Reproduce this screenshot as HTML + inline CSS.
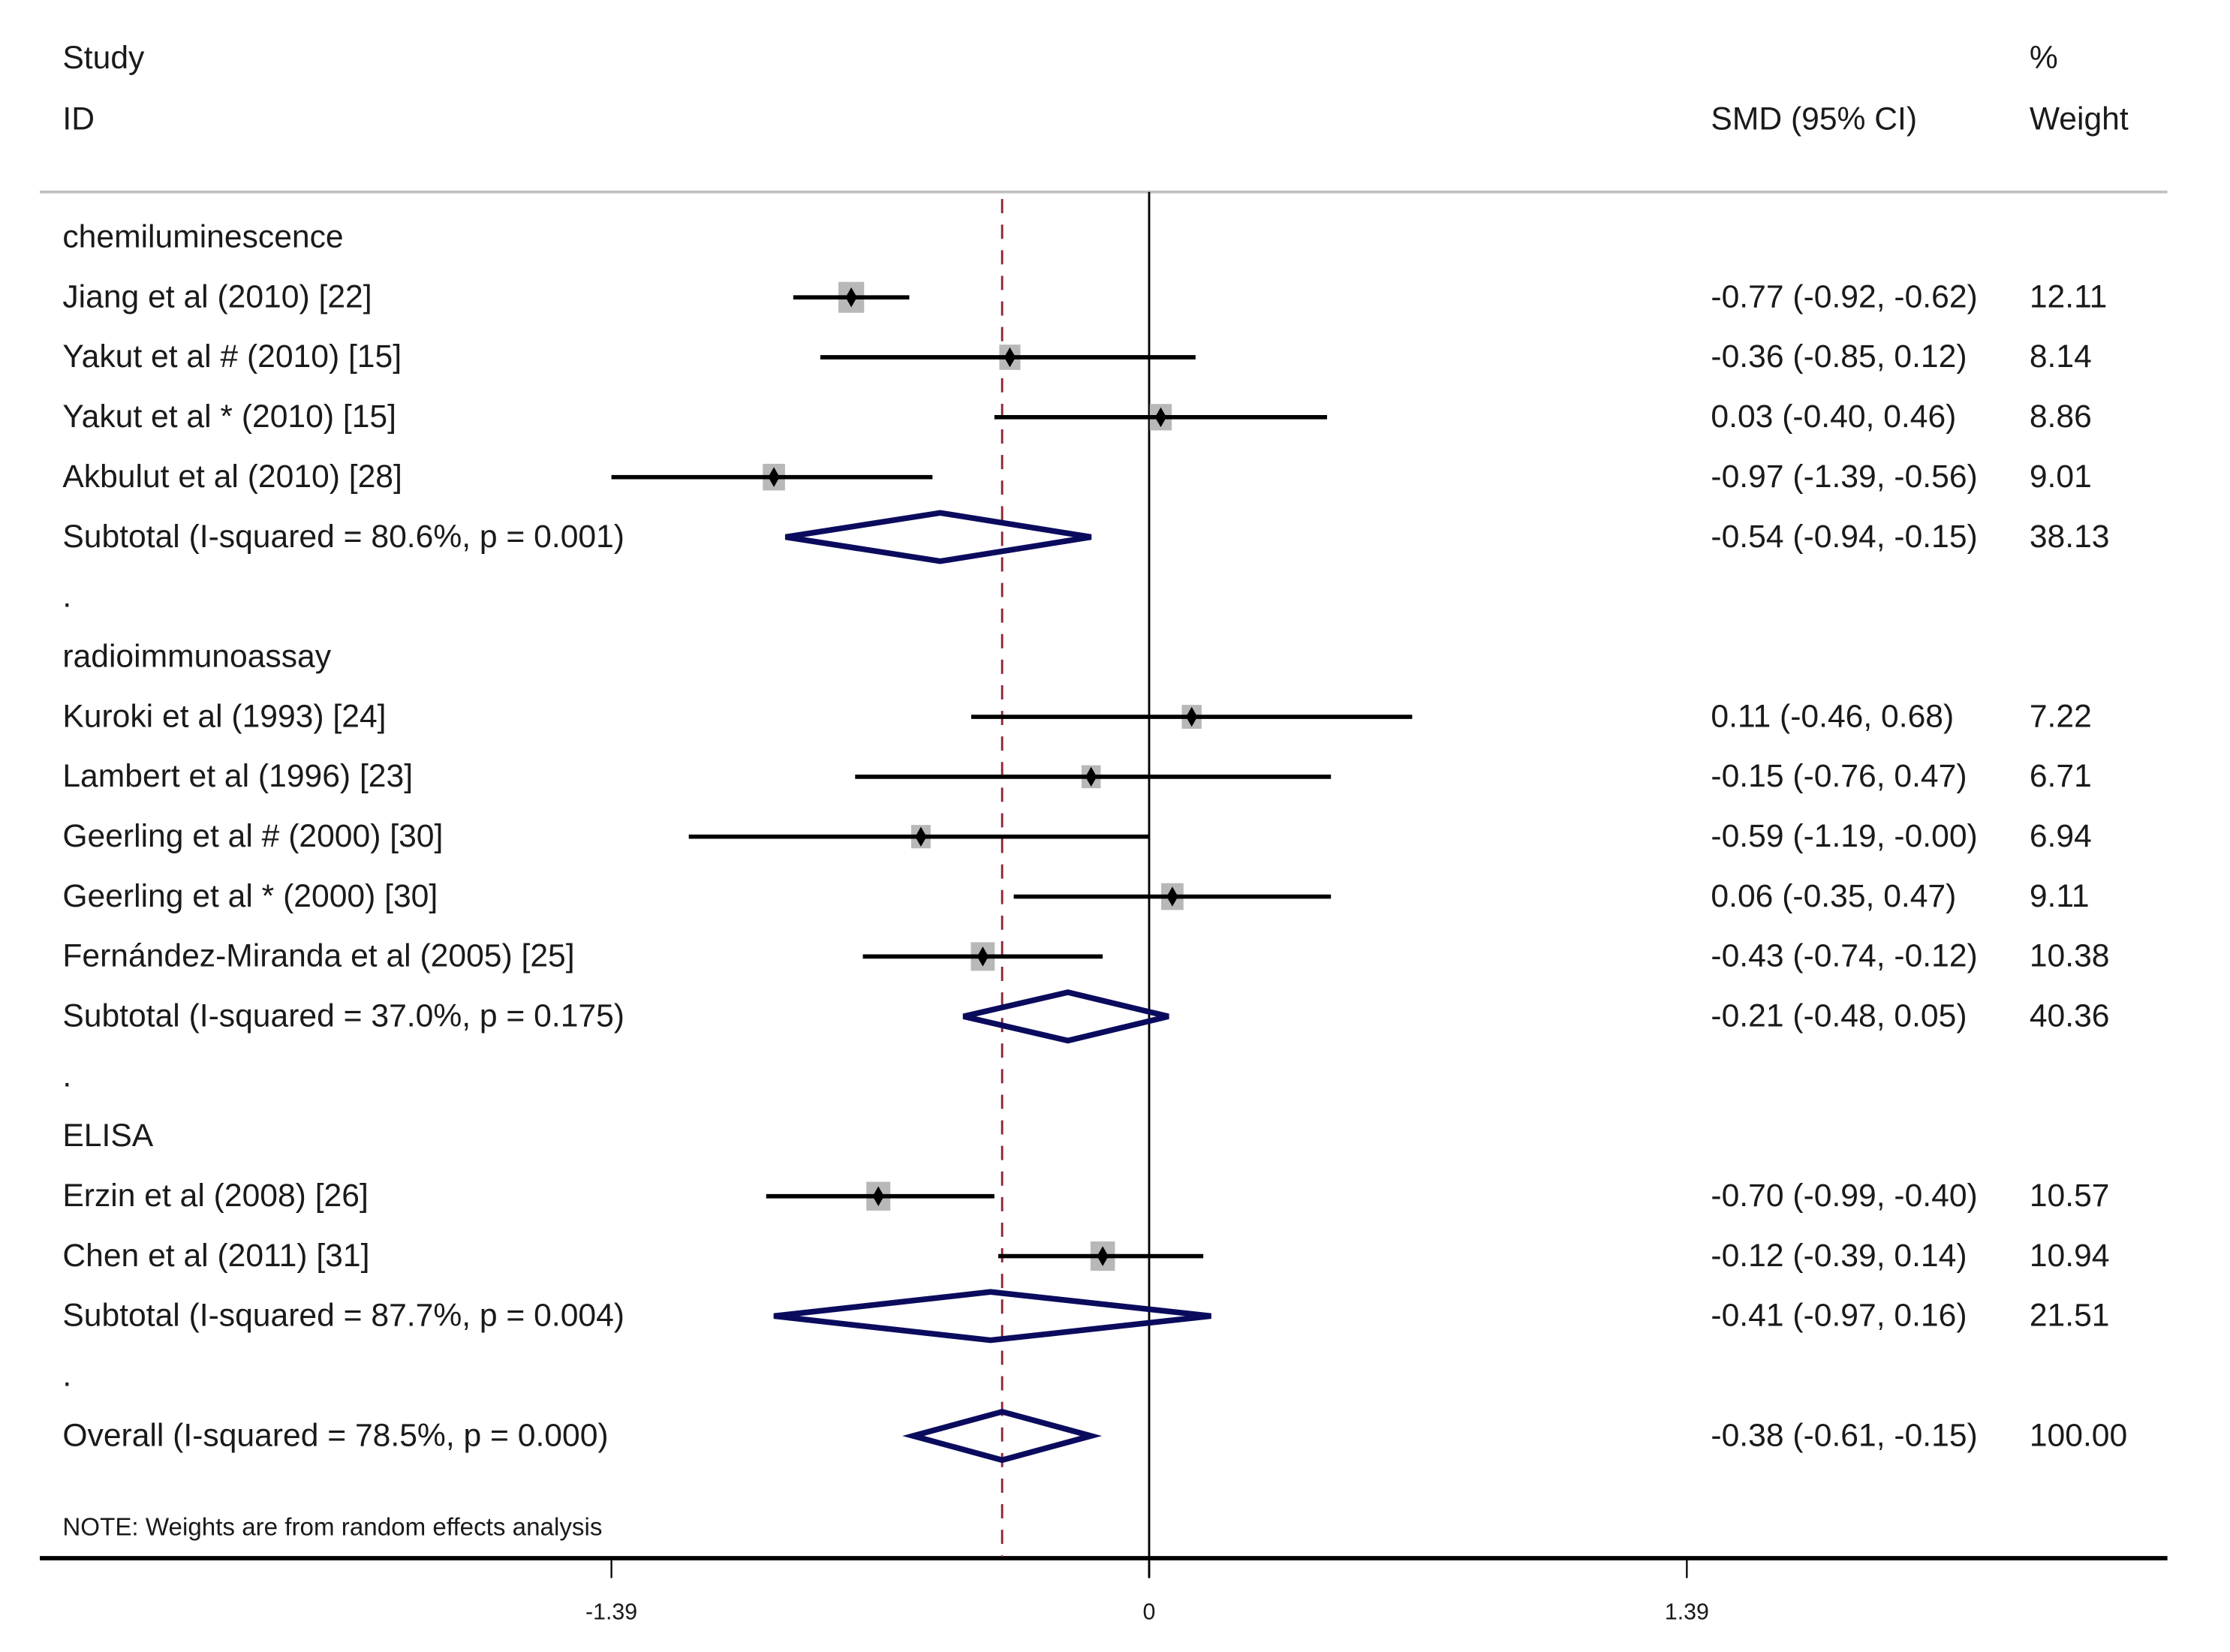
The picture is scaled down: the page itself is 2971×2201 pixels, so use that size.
<!DOCTYPE html>
<html><head><meta charset="utf-8"><style>
html,body{margin:0;padding:0;background:#fff;}
svg{display:block;}
text{font-family:"Liberation Sans",sans-serif;font-size:22.5px;fill:#1a1a1a;}
</style></head><body>
<svg id="chart" width="2971" height="2201" viewBox="0 0 1568 1162" preserveAspectRatio="none" xmlns="http://www.w3.org/2000/svg">
<g id="static">
<text x="44" y="48">Study</text>
<text x="44" y="91">ID</text>
<text x="1203" y="91">SMD (95% CI)</text>
<text x="1427" y="48">%</text>
<text x="1427" y="91">Weight</text>
<line x1="28" y1="135" x2="1524" y2="135" stroke="#c0c0c0" stroke-width="2"/>
<text x="44" y="1080" style="font-size:17.5px">NOTE: Weights are from random effects analysis</text>
<line x1="28" y1="1096" x2="1524" y2="1096" stroke="#000" stroke-width="3"/>
</g>
<g id="marks"></g>
</svg>
<script>
const labels=["chemiluminescence","Jiang et al (2010) [22]","Yakut et al # (2010) [15]","Yakut et al * (2010) [15]","Akbulut et al (2010) [28]","Subtotal  (I-squared = 80.6%, p = 0.001)",".","radioimmunoassay","Kuroki et al (1993) [24]","Lambert et al (1996) [23]","Geerling et al # (2000) [30]","Geerling et al * (2000) [30]","Fernández-Miranda et al (2005) [25]","Subtotal  (I-squared = 37.0%, p = 0.175)",".","ELISA","Erzin et al (2008) [26]","Chen et al (2011) [31]","Subtotal  (I-squared = 87.7%, p = 0.004)",".","Overall  (I-squared = 78.5%, p = 0.000)"];
const rowTypes=["h","s","s","s","s","d","b","h","s","s","s","s","s","d","b","h","s","s","d","b","d"];
const est=[null,-0.77,-0.36,0.03,-0.97,-0.54,null,null,0.11,-0.15,-0.59,0.06,-0.43,-0.21,null,null,-0.70,-0.12,-0.41,null,-0.38];
const lo=[null,-0.92,-0.85,-0.40,-1.39,-0.94,null,null,-0.46,-0.76,-1.19,-0.35,-0.74,-0.48,null,null,-0.99,-0.39,-0.97,null,-0.61];
const hi=[null,-0.62,0.12,0.46,-0.56,-0.15,null,null,0.68,0.47,-0.00,0.47,-0.12,0.05,null,null,-0.40,0.14,0.16,null,-0.15];
const weights=[null,12.11,8.14,8.86,9.01,38.13,null,null,7.22,6.71,6.94,9.11,10.38,40.36,null,null,10.57,10.94,21.51,null,100.00];
const ciText=[null,"-0.77 (-0.92, -0.62)","-0.36 (-0.85, 0.12)","0.03 (-0.40, 0.46)","-0.97 (-1.39, -0.56)","-0.54 (-0.94, -0.15)",null,null,"0.11 (-0.46, 0.68)","-0.15 (-0.76, 0.47)","-0.59 (-1.19, -0.00)","0.06 (-0.35, 0.47)","-0.43 (-0.74, -0.12)","-0.21 (-0.48, 0.05)",null,null,"-0.70 (-0.99, -0.40)","-0.12 (-0.39, 0.14)","-0.41 (-0.97, 0.16)",null,"-0.38 (-0.61, -0.15)"];
const xTicks=[-1.39,0,1.39];
const xTickLabels=["-1.39","0","1.39"];
const overallEffect=-0.38;

const NS="http://www.w3.org/2000/svg";
const g=document.getElementById('marks');
function X(v){return 808+v*272;}
function Y(i){return 167+i*42.15;}
function mk(tag,attrs){const e=document.createElementNS(NS,tag);for(const k in attrs)e.setAttribute(k,attrs[k]);g.appendChild(e);return e;}

let l=mk('line',{x1:X(overallEffect),y1:140,x2:X(overallEffect),y2:1095,stroke:'#8b2530','stroke-width':1.5,'stroke-dasharray':'10,8'});


l=mk('line',{x1:X(0),y1:135,x2:X(0),y2:1110,stroke:'#000','stroke-width':1.5});



xTicks.forEach((t,i)=>{
  const tk=mk('line',{x1:X(t),y1:1096,x2:X(t),y2:1110,stroke:'#000','stroke-width':1.2});
  
  
  const tl=mk('text',{x:X(t),y:1139,'text-anchor':'middle',style:'font-size:16px'});
  tl.textContent=xTickLabels[i];
  
  
});

labels.forEach((lab,i)=>{
  const y=Y(i);
  const t=mk('text',{x:44,y:y+7});
  t.textContent=lab;
  
  
  if(ciText[i]){
    const c=mk('text',{x:1203,y:y+7});c.textContent=ciText[i];
    
    
    const w=mk('text',{x:1427,y:y+7});w.textContent=weights[i].toFixed(2);
    
    
  }
  if(rowTypes[i]==='s'){
    const s=5.2*Math.sqrt(weights[i]);
    const sq=mk('rect',{x:X(est[i])-s/2,y:y-s*0.6,width:s,height:s*1.2,fill:'#b8b8b8'});
    
    
    const ci=mk('line',{x1:X(lo[i]),y1:y,x2:X(hi[i]),y2:y,stroke:'#000','stroke-width':3});
    
    
    const p=mk('path',{d:`M${X(est[i])},${y-7} L${X(est[i])+4},${y} L${X(est[i])},${y+7} L${X(est[i])-4},${y} Z`,fill:'#000'});
    
    
  } else if(rowTypes[i]==='d'){
    const h=17;
    const d=mk('path',{d:`M${X(lo[i])},${y} L${X(est[i])},${y-h} L${X(hi[i])},${y} L${X(est[i])},${y+h} Z`,fill:'none',stroke:'#0b0b5e','stroke-width':4});
    
    
  }
});
</script>
</body></html>
